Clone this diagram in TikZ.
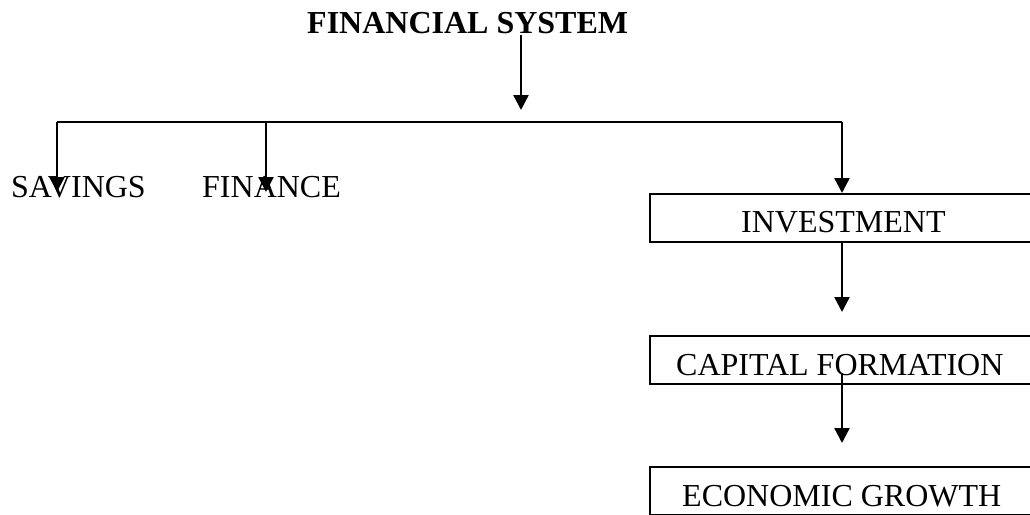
\documentclass[tikz,border=0pt]{standalone}
\usepackage{fontspec}
\setmainfont{Liberation Serif}
\usetikzlibrary{arrows.meta}
\tikzset{
  lbl/.style={anchor=base west, inner sep=0pt, font=\fontsize{32}{36}\selectfont},
  ttl/.style={anchor=base west, inner sep=0pt, font=\fontsize{32}{36}\selectfont\bfseries},
  boxn/.style={draw, line width=2.4pt, anchor=north west, inner sep=0pt, minimum width=400pt, minimum height=48pt},
  arr/.style={line width=2.4pt, -{Triangle[width=15pt,length=15pt]}},
  ln/.style={line width=2.4pt}
}
\begin{document}
\begin{tikzpicture}[x=1pt,y=-1pt]
\fill[white] (0,0) rectangle (1030,514);
\useasboundingbox (0,0) rectangle (1030,514);
% boxes
\node[boxn] (binv) at (649,193) {};
\node[boxn] (bcap) at (649,335) {};
\node[boxn] (beco) at (649,465.5) {};
% texts
\node[ttl] (fs) at (307,33) {FINANCIAL SYSTEM};
\node[lbl] (sav) at (11,197) {SAVINGS};
\node[lbl] (fin) at (202,197) {FINANCE};
\node[lbl] (inv) at (741,232) {INVESTMENT};
\node[lbl] (cap) at (676,375) {CAPITAL FORMATION};
\node[lbl] (eco) at (682,506) {ECONOMIC GROWTH};
% coordinates
\coordinate (fs0) at (521,35);
\coordinate (fs1) at (521,110);
\coordinate (hL) at (57,122);
\coordinate (hF) at (266,122);
\coordinate (hR) at (842,122);
\coordinate (sav1) at (57,192);
\coordinate (fin1) at (266,192);
\coordinate (c0) at (842,373);
% connectors
\draw[arr] (fs0) -- (fs1);
\draw[ln] (hL) -- (hR);
\draw[arr] (hL) -- (sav1);
\draw[arr] (hF) -- (fin1);
\draw[arr] (hR) -- (hR |- binv.north);
\draw[arr] (binv.south -| hR) -- (842,312);
\draw[arr] (c0) -- (842,443);
\end{tikzpicture}
\end{document}
